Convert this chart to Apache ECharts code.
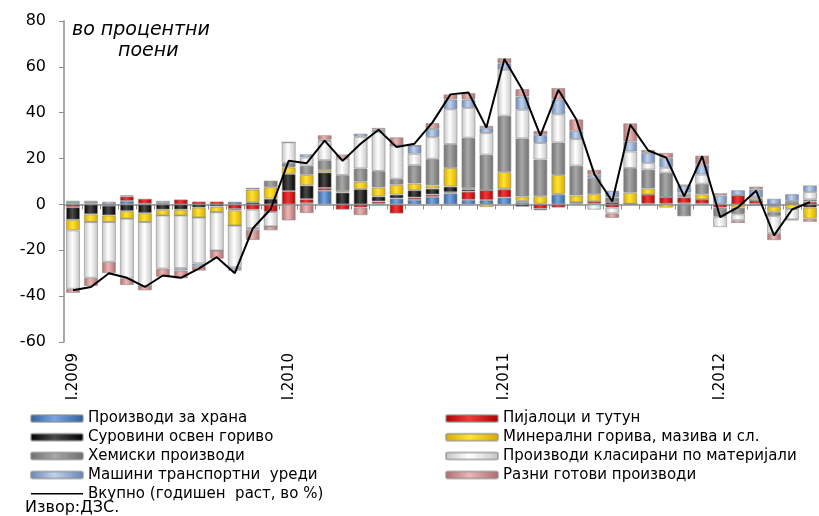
<!DOCTYPE html>
<html>
<head>
<meta charset="utf-8">
<script src="https://cdn.jsdelivr.net/npm/echarts@6/dist/echarts.min.js"></script>
<style>
html,body{margin:0;padding:0;background:#fff;}
#c{width:819px;height:516px;}
</style>
</head>
<body>
<div id="c"></div>
<script>
const romans = ['I','II','III','IV','V','VI','VII','VIII','IX','X','XI','XII'];
const years = [2009, 2010, 2011, 2012];
const monthCount = 42;
const yTicks = { min: -60, max: 80, interval: 20 };

const food  = [0.3,0.5,0,1.5,0.3,0.3,0,0,0,1.2, 0,0,0,0.5,6,0,0,0.3,2.6,2, 3.3,4.8,2,1.9,3,1,0.3,4.3,0.5,0.3, 0,0.3,0.3,0.3,0.5,0.3,0.3,0,0.3,0, 0,0];
const bev   = [-1.2,0.6,-0.5,2,2.2,0.3,2.2,1.3,1.3,-2, -2.3,-3.3,5.8,1.8,1.2,-2.3,-1.4,1,-4,1, 1,0.5,3.6,4.3,3.6,0.5,-1.9,-1.4,0.5,1, -1.4,0,4,2.9,2.6,1.9,-1.4,4,1.4,-0.5, 0.5,1.2];
const crude = [-5.5,-4.3,-4.3,-2.9,-3.8,-2.3,-2.3,-1.4,-0.9,-0.6, 1,2.5,7.5,6,6.8,5.2,6.7,2.2,1.7,3.2, 2.6,2.5,1,0,0.3,-1,-0.7,0.3,0,0, 1,0,0,0,0.5,0,-0.5,0,0,-0.5, 0,-1.4];
const fuels = [-4.6,-3.4,-2.9,-3.3,-3.9,-2.5,-2.5,-4.3,-2.5,-6.6, 5.5,5,2.9,4.6,1,0.6,3.2,3.9,4.3,2.9, 1.4,8.1,0.5,-1.2,7.2,1.9,3.3,8.2,2.9,3.2, 0,4.8,2.6,-1.4,0.5,2.2,0,-1.4,0.9,-2.2, -2,-4.8];
const chem  = [0.8,0,0,0,0,0,0,0,0,0, 0.8,2.9,1.9,4,4.3,7,5.8,7.2,2.6,8, 11.6,10.4,22,15.5,24.6,25.4,16,14.2,13,7, 2,10.8,8.3,10.6,-5.2,4.6,-3.5,-2.9,-0.7,-1.9, 1,1];
const manuf = [-25.5,-24.3,-17.3,-26,-28,-23.2,-23,-20,-16.7,-18.2, -8,-6.3,9,3.6,8.4,7.2,13.8,17,14.5,5, 9.4,15.2,13,9.4,20,12.5,7.2,12.3,11.6,-2.3, -2.5,7.2,2.9,2.2,1,4,-4.5,-2.6,0.5,-7.5, -4.5,3.2];
const mach  = [0.5,0.5,1.2,0.5,0,1,-1,-1.2,0,-1, -0.7,0,0,1.4,0.5,0.3,1.4,1,0,3.6, 3.6,4.3,3.6,2.2,2.9,5.8,3.6,6.5,3.6,1.4, 3,4.3,4.3,4.3,3,4.3,3.6,2.2,3.5,2.5, 3,2.9];
const misc  = [-1.8,-3.6,-5,-3,-1.8,-3.6,-3.5,-2,-3.6,-0.5, -4.5,-1.7,-7,-3.8,2,1.5,-3.3,0.8,3.6,0, 2.6,2.2,2.9,1,2.2,3.2,1.7,5,5,2.2, -2,8,1.4,2.2,0.6,4,1,-1.2,1.2,-3, -0.5,-1.4];
const total = [-37.4,-36,-30,-32,-36,-31,-32,-28,-23,-30, -10.5,-2,19,18,27.8,19,26.5,32.6,25,26.5, 35.8,48,48.8,33.5,63.4,50,30,50,37,13.3, 1.3,34.8,23.5,20.4,3.5,21,-5.5,-1.2,6,-13.5, -2.2,1];

const names = {
  food: 'Производи за храна',
  bev: 'Пијалоци и тутун',
  crude: 'Суровини освен гориво',
  fuels: 'Минерални горива, мазива и сл.',
  chem: 'Хемиски производи',
  manuf: 'Производи класирани по материјали',
  mach: 'Машини транспортни  уреди',
  misc: 'Разни готови производи',
  total: 'Вкупно (годишен  раст, во %)'
};

const categories = [];
years.forEach(y => romans.forEach(r => { if (categories.length < monthCount) categories.push(r + '.' + y); }));

const chart = echarts.init(document.getElementById('c'), null, { renderer: 'canvas' });

function glossy(dark, light) {
  return new echarts.graphic.LinearGradient(0, 0, 1, 0, [
    { offset: 0, color: dark },
    { offset: 0.45, color: light },
    { offset: 1, color: dark }
  ]);
}

const barDefs = [
  ['food', food, '#2e5f9e', '#7aa7e0'],
  ['bev', bev, '#b00000', '#f03a3a'],
  ['crude', crude, '#000000', '#4a4a4a'],
  ['fuels', fuels, '#d9a800', '#ffe433'],
  ['chem', chem, '#6e6e6e', '#a8a8a8'],
  ['manuf', manuf, '#c4c4c4', '#ffffff'],
  ['mach', mach, '#6685b5', '#c0d2ec'],
  ['misc', misc, '#b06a6a', '#eab8b8']
];

const series = barDefs.map(d => ({
  name: names[d[0]],
  type: 'bar',
  stack: 'all',
  xAxisIndex: 0,
  barWidth: 14,
  data: d[1],
  itemStyle: {
    color: glossy(d[2], d[3]),
    borderColor: 'rgba(140,140,140,0.6)',
    borderWidth: 1
  },
  emphasis: { disabled: true }
}));

series.push({
  name: names.total,
  type: 'line',
  xAxisIndex: 0,
  data: total,
  symbol: 'none',
  z: 10,
  lineStyle: { color: '#000', width: 2 },
  itemStyle: { color: '#000' }
});

const legendText = { fontFamily: 'DejaVu Sans', fontSize: 15, color: '#000', lineHeight: 14 };
const barItem = n => ({ name: n, icon: 'roundRect' });

chart.setOption({
  animation: false,
  grid: { left: 64, top: 21, width: 757, height: 321, containLabel: false },
  xAxis: [
    {
      type: 'category',
      data: categories,
      position: 'bottom',
      axisLine: { onZero: true, lineStyle: { color: '#8c8c8c', width: 1.5 } },
      axisTick: { show: true, interval: 0, length: 5, lineStyle: { color: '#8c8c8c' } },
      axisLabel: { show: false },
      splitLine: { show: false }
    },
    {
      type: 'category',
      data: categories,
      position: 'bottom',
      axisLine: { show: false, onZero: false },
      axisTick: { show: false },
      axisLabel: {
        show: true, interval: 11, rotate: 90, margin: 11,
        fontFamily: 'DejaVu Sans', fontSize: 15, color: '#000'
      },
      splitLine: { show: false }
    }
  ],
  yAxis: {
    type: 'value',
    min: yTicks.min, max: yTicks.max, interval: yTicks.interval,
    axisLine: { show: true, lineStyle: { color: '#8c8c8c', width: 1.5 } },
    axisTick: { show: true, length: 5, lineStyle: { color: '#8c8c8c' } },
    axisLabel: { fontFamily: 'DejaVu Sans', fontSize: 16, color: '#000', margin: 18 },
    splitLine: { show: false }
  },
  legend: [
    {
      orient: 'vertical', left: 30, top: 411, padding: 0, itemWidth: 52, itemHeight: 7, itemGap: 3.8,
      selectedMode: false, textStyle: legendText,
      data: [barItem(names.food), barItem(names.crude), barItem(names.chem), barItem(names.mach),
             { name: names.total, itemStyle: { opacity: 0, color: 'transparent', borderWidth: 0 }, lineStyle: { width: 1.5, color: '#000', opacity: 1 } }]
    },
    {
      orient: 'vertical', left: 445, top: 411, padding: 0, itemWidth: 52, itemHeight: 7, itemGap: 3.8,
      selectedMode: false, textStyle: legendText,
      data: [barItem(names.bev), barItem(names.fuels), barItem(names.manuf), barItem(names.misc)]
    }
  ],
  graphic: [
    { type: 'text', left: 72, top: 21, style: { text: 'во процентни', font: 'italic 19px "DejaVu Sans"', fill: '#000' } },
    { type: 'text', left: 118, top: 42, style: { text: 'поени', font: 'italic 19px "DejaVu Sans"', fill: '#000' } },
    { type: 'text', left: 25, top: 500, style: { text: 'Извор:ДЗС.', font: '16px "DejaVu Sans"', fill: '#000' } }
  ],
  series: series
});
</script>
</body>
</html>
